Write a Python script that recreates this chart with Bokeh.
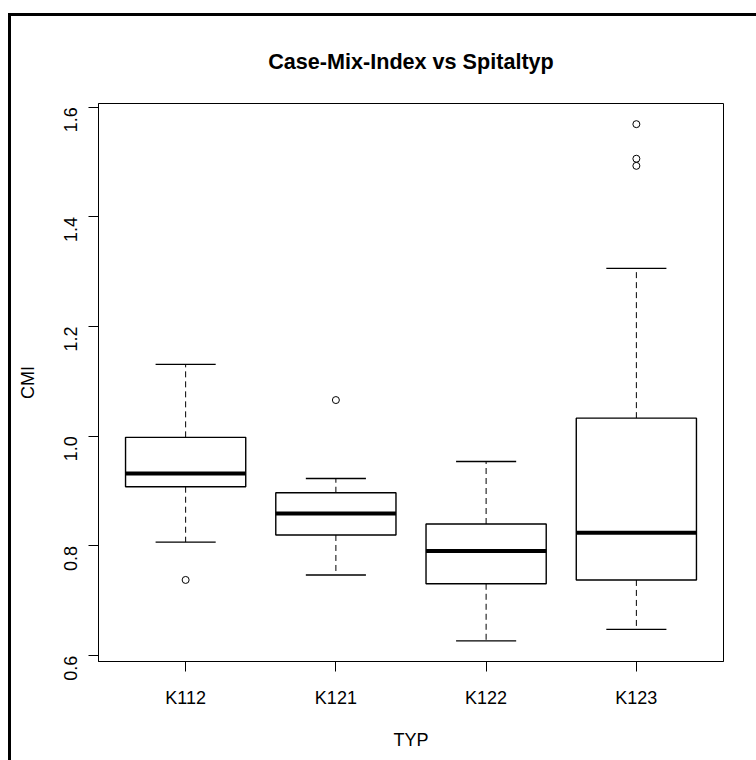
import math
from bokeh.plotting import figure
from bokeh.models import FactorRange, Range1d, FixedTicker, PrintfTickFormatter, ColumnDataSource
from bokeh.transform import dodge
from bokeh.embed import file_html
from bokeh.resources import INLINE

# ---- data (R boxplot statistics) ----
cats = ["K112", "K121", "K122", "K123"]
lower = [0.807, 0.747, 0.627, 0.648]
q1 = [0.908, 0.820, 0.731, 0.738]
med = [0.932, 0.859, 0.791, 0.824]
q3 = [0.998, 0.897, 0.840, 1.033]
upper = [1.131, 0.923, 0.954, 1.306]
outlier_cat = ["K112", "K121", "K123", "K123", "K123"]
outlier_val = [0.738, 1.066, 1.569, 1.506, 1.493]
y_ticks = [0.6, 0.8, 1.0, 1.2, 1.4, 1.6]

FONT = "Liberation Sans"

lo = min(lower + outlier_val)
hi = max(upper + outlier_val)
pad = 0.04 * (hi - lo)

src = ColumnDataSource(dict(cat=cats, lower=lower, q1=q1, med=med, q3=q3, upper=upper))
osrc = ColumnDataSource(dict(cat=outlier_cat, val=outlier_val))

p = figure(
    x_range=FactorRange(*cats, range_padding=0.04, range_padding_units="percent"),
    y_range=Range1d(lo - pad, hi + pad),
    width=745, height=744,
    output_backend="svg", toolbar_location=None,
    min_border_left=87, min_border_right=36, min_border_top=87, min_border_bottom=102,
)
p.margin = (13, 0, 0, 8)
p.styles = {"border-left": "3px solid black", "border-top": "3px solid black",
            "box-sizing": "content-box"}

p.xgrid.visible = False
p.ygrid.visible = False
p.outline_line_color = "black"
p.outline_line_width = 1
p.outline_line_alpha = 1
p.background_fill_color = "white"
p.border_fill_color = "white"

# whisker stems (dashed)
p.segment(x0="cat", y0="q3", x1="cat", y1="upper", source=src,
          line_color="black", line_width=1, line_dash="6 4")
p.segment(x0="cat", y0="q1", x1="cat", y1="lower", source=src,
          line_color="black", line_width=1, line_dash="6 4")
# whisker caps
p.segment(x0=dodge("cat", -0.2, range=p.x_range), x1=dodge("cat", 0.2, range=p.x_range),
          y0="upper", y1="upper", source=src, line_color="black", line_width=1.3)
p.segment(x0=dodge("cat", -0.2, range=p.x_range), x1=dodge("cat", 0.2, range=p.x_range),
          y0="lower", y1="lower", source=src, line_color="black", line_width=1.3)
# boxes
p.vbar(x="cat", top="q3", bottom="q1", width=0.8, source=src,
       fill_color="white", line_color="black", line_width=1.4)
# medians
p.segment(x0=dodge("cat", -0.4, range=p.x_range), x1=dodge("cat", 0.4, range=p.x_range),
          y0="med", y1="med", source=src, line_color="black", line_width=4)
# outliers
p.scatter(x="cat", y="val", source=osrc, marker="circle", size=7,
          fill_color=None, line_color="black", line_width=1)

# axes
for ax in (p.xaxis[0], p.yaxis[0]):
    ax.axis_line_color = "black"
    ax.major_tick_line_color = "black"
    ax.major_tick_out = 10
    ax.major_tick_in = 0
    ax.minor_tick_line_color = None
    ax.major_label_text_font = FONT
    ax.major_label_text_font_size = "18px"
    ax.major_label_text_color = "black"
    ax.axis_label_text_font = FONT
    ax.axis_label_text_font_size = "18px"
    ax.axis_label_text_font_style = "normal"
    ax.axis_label_text_color = "black"

p.yaxis[0].ticker = FixedTicker(ticks=y_ticks, minor_ticks=[])
p.yaxis[0].formatter = PrintfTickFormatter(format="%.1f")
p.yaxis[0].major_label_orientation = math.pi / 2
p.yaxis[0].major_label_standoff = 18
p.yaxis[0].axis_label = "CMI"
p.yaxis[0].axis_label_standoff = 17

p.xaxis[0].major_label_standoff = 16
p.xaxis[0].axis_label = "TYP"
p.xaxis[0].axis_label_standoff = 19

p.title.text = "Case-Mix-Index vs Spitaltyp"
p.title.align = "center"
p.title.vertical_align = "middle"
p.title.text_font = FONT
p.title.text_font_size = "21.6px"
p.title.text_font_style = "bold"
p.title.text_color = "black"
p.title.standoff = 58

open("out.html", "w").write(file_html(p, INLINE))
